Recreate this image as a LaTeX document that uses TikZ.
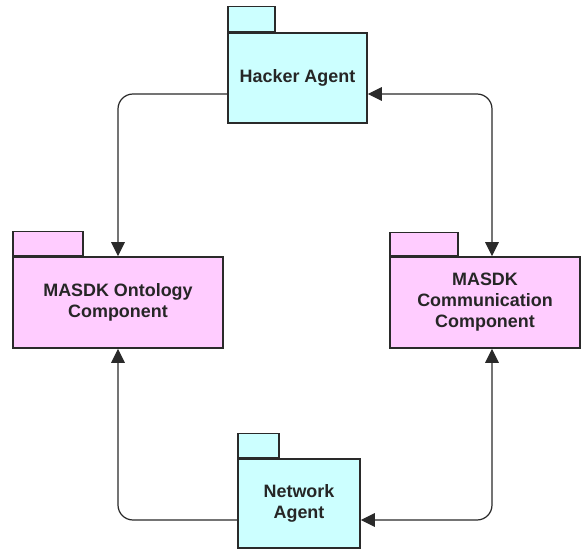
\documentclass[tikz,border=0pt]{standalone}
\usepackage{fontspec}
\setmainfont{Liberation Sans}
\usetikzlibrary{arrows.meta, positioning, calc}
\definecolor{agentcolor}{HTML}{CCFFFF}
\definecolor{compcolor}{HTML}{FFCCFF}
\definecolor{edgecolor}{HTML}{2A2A2A}
\tikzset{
  pkgbody/.style={draw=edgecolor, line width=0.9pt, inner sep=0pt, align=center,
    text=black!85, font=\fontsize{10.2}{12}\selectfont\bfseries},
  pkgtab/.style={draw=edgecolor, line width=0.9pt, inner sep=0pt, anchor=south west},
  link/.style={draw=edgecolor, line width=0.7pt, rounded corners=0.3cm}
}

\begin{document}
\begin{tikzpicture}[x=0.02cm, y=-0.02cm, >={Triangle[length=0.28cm,width=0.27cm]}]
    \useasboundingbox (0,0) rectangle (581,550);
    %
    \coordinate (packageH) at (297.5,78);
    \coordinate (packageO) at (118,302.5);
    \coordinate (packageC) at (485,302.5);
    \coordinate (packageN) at (299,503.5);
    %
    \node[pkgbody, fill=agentcolor, minimum width=2.78cm, minimum height=1.8cm] at (packageH) (nodeH) {Hacker Agent};
    \node[pkgbody, fill=compcolor, minimum width=4.2cm, minimum height=1.82cm] at (packageO) (nodeO) {MASDK Ontology\\Component};
    \node[pkgbody, fill=compcolor, minimum width=3.8cm, minimum height=1.82cm] at (packageC) (nodeC) {MASDK\\Communication\\Component};
    \node[pkgbody, fill=agentcolor, minimum width=2.44cm, minimum height=1.78cm] at (packageN) (nodeN) {Network\\Agent};
    %
    \node[pkgtab, fill=agentcolor, minimum width=0.94cm, minimum height=0.5cm] at (nodeH.north west) (tabH) {};
    \node[pkgtab, fill=compcolor, minimum width=1.4cm, minimum height=0.48cm] at (nodeO.north west) (tabO) {};
    \node[pkgtab, fill=compcolor, minimum width=1.36cm, minimum height=0.46cm] at (nodeC.north west) (tabC) {};
    \node[pkgtab, fill=agentcolor, minimum width=0.82cm, minimum height=0.48cm] at (nodeN.north west) (tabN) {};
    %
    \draw[link, ->] ([yshift=-0.32cm]nodeH.west) -| (nodeO.north);
    \draw[link, <->] ([yshift=-0.32cm]nodeH.east) -| ([xshift=0.14cm]nodeC.north);
    \draw[link, ->] ([yshift=-0.33cm]nodeN.west) -| (nodeO.south);
    \draw[link, <->] ([yshift=-0.33cm]nodeN.east) -| ([xshift=0.14cm]nodeC.south);
\end{tikzpicture}
\end{document}
